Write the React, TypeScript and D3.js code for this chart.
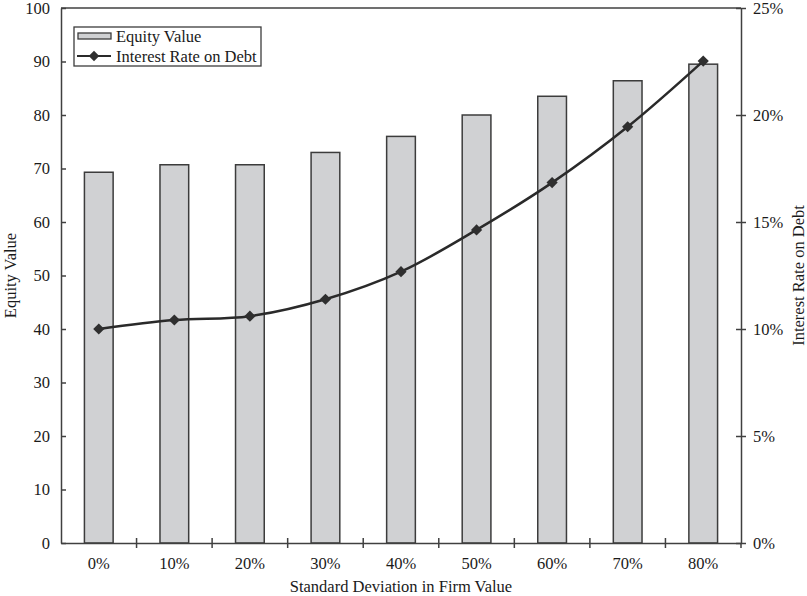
import * as d3 from "d3";
import React from "react";

const categories = ["0%", "10%", "20%", "30%", "40%", "50%", "60%", "70%", "80%"];
const equityValue = [69.3, 70.7, 70.7, 73.0, 76.0, 80.0, 83.5, 86.4, 89.5];
const interestRate = [0.1, 0.1042, 0.106, 0.1139, 0.1268, 0.1463, 0.1684, 0.1945, 0.2252];
const leftTicks = [0, 10, 20, 30, 40, 50, 60, 70, 80, 90, 100];
const rightTicks = [0, 0.05, 0.1, 0.15, 0.2, 0.25];

function App() {
  const svgRef = React.useRef<SVGSVGElement>(null);

  React.useEffect(() => {
    const width = 807;
    const height = 596;
    const marginTop = 8;
    const marginLeft = 61;
    const marginRight = 66;
    const marginBottom = 53;
    const font = "'Liberation Serif', 'Times New Roman', serif";
    const fontSize = 16.5;
    const axisColor = "#404040";
    const textColor = "#1a1a1a";

    const svg = d3.select(svgRef.current);
    svg.selectAll("*").remove();
    svg.attr("width", width).attr("height", height).attr("viewBox", [0, 0, width, height]);

    const x = d3
      .scaleBand()
      .domain(categories)
      .range([marginLeft, width - marginRight])
      .paddingInner(0.62)
      .paddingOuter(0.31);
    const xOuter = d3.scaleBand().domain(categories).range([marginLeft, width - marginRight]);
    const y = d3.scaleLinear().domain([0, 100]).range([height - marginBottom, marginTop]);
    const y2 = d3.scaleLinear().domain([0, 0.25]).range([height - marginBottom, marginTop]);

    // bars
    svg
      .append("g")
      .selectAll("rect")
      .data(equityValue)
      .join("rect")
      .attr("x", (_, i) => x(categories[i]) as number)
      .attr("y", (d) => y(d))
      .attr("width", x.bandwidth())
      .attr("height", (d) => y(0) - y(d))
      .attr("fill", "#d0d1d3")
      .attr("stroke", "#3c3c3c")
      .attr("stroke-width", 1.5);

    // frame top line
    svg
      .append("line")
      .attr("x1", marginLeft)
      .attr("x2", width - marginRight)
      .attr("y1", marginTop)
      .attr("y2", marginTop)
      .attr("stroke", axisColor)
      .attr("stroke-width", 1.5);

    const styleAxis = (g: any) => {
      g.select(".domain").attr("stroke", axisColor).attr("stroke-width", 1.5);
      g.selectAll(".tick line").attr("stroke", axisColor).attr("stroke-width", 1.5);
      g.selectAll(".tick text")
        .attr("font-family", font)
        .attr("font-size", fontSize)
        .attr("fill", textColor);
    };

    // left axis
    svg
      .append("g")
      .attr("transform", `translate(${marginLeft},0)`)
      .call(d3.axisLeft(y).tickValues(leftTicks).tickSize(4).tickSizeOuter(0).tickPadding(7))
      .call(styleAxis)
      .call((g: any) => g.selectAll(".tick line").attr("x2", 5));

    // right axis
    svg
      .append("g")
      .attr("transform", `translate(${width - marginRight},0)`)
      .call(
        d3
          .axisRight(y2)
          .tickValues(rightTicks)
          .tickFormat(d3.format(".0%"))
          .tickSize(4)
          .tickSizeOuter(0)
          .tickPadding(8),
      )
      .call(styleAxis)
      .call((g: any) => g.selectAll(".tick line").attr("x2", -5).attr("x1", 5));

    // bottom axis (ticks at category boundaries)
    const bottom = svg
      .append("g")
      .attr("transform", `translate(0,${height - marginBottom})`)
      .call(d3.axisBottom(x).tickSize(0).tickSizeOuter(0).tickPadding(14))
      .call(styleAxis);
    bottom
      .selectAll(".boundary")
      .data(categories.slice(1))
      .join("line")
      .attr("class", "boundary")
      .attr("x1", (d) => xOuter(d) as number)
      .attr("x2", (d) => xOuter(d) as number)
      .attr("y1", -5)
      .attr("y2", 5)
      .attr("stroke", axisColor)
      .attr("stroke-width", 1.5);
    bottom
      .append("line")
      .attr("x1", width - marginRight)
      .attr("x2", width - marginRight)
      .attr("y1", 0)
      .attr("y2", 5)
      .attr("stroke", axisColor)
      .attr("stroke-width", 1.5);

    // line series
    const cx = (i: number) => (x(categories[i]) as number) + x.bandwidth() / 2;
    const line = d3
      .line<number>()
      .curve(d3.curveCatmullRom.alpha(0.5))
      .x((_, i) => cx(i))
      .y((d) => y2(d));
    svg
      .append("path")
      .attr("d", line(interestRate))
      .attr("fill", "none")
      .attr("stroke", "#2a2a2a")
      .attr("stroke-width", 2.5);

    const diamond = d3.symbol(d3.symbolDiamond2, 80);
    svg
      .append("g")
      .selectAll("path")
      .data(interestRate)
      .join("path")
      .attr("d", diamond)
      .attr("transform", (d, i) => `translate(${cx(i)},${y2(d)})`)
      .attr("fill", "#2f2f2f");

    // axis titles
    const midY = (marginTop + height - marginBottom) / 2;
    svg
      .append("text")
      .attr("transform", `translate(16,${midY}) rotate(-90)`)
      .attr("text-anchor", "middle")
      .attr("font-family", font)
      .attr("font-size", fontSize)
      .attr("fill", textColor)
      .text("Equity Value");
    svg
      .append("text")
      .attr("transform", `translate(804,${midY}) rotate(-90)`)
      .attr("text-anchor", "middle")
      .attr("font-family", font)
      .attr("font-size", fontSize)
      .attr("fill", textColor)
      .text("Interest Rate on Debt");
    svg
      .append("text")
      .attr("x", (marginLeft + width - marginRight) / 2)
      .attr("y", 592)
      .attr("text-anchor", "middle")
      .attr("font-family", font)
      .attr("font-size", fontSize)
      .attr("fill", textColor)
      .text("Standard Deviation in Firm Value");

    // legend
    const legend = svg.append("g").attr("transform", "translate(74,27)");
    legend
      .append("rect")
      .attr("width", 187)
      .attr("height", 39)
      .attr("fill", "#fff")
      .attr("stroke", "#3c3c3c")
      .attr("stroke-width", 1.3);
    legend
      .append("rect")
      .attr("x", 4)
      .attr("y", 6)
      .attr("width", 33)
      .attr("height", 6)
      .attr("fill", "#d0d1d3")
      .attr("stroke", "#3c3c3c")
      .attr("stroke-width", 1.3);
    legend
      .append("line")
      .attr("x1", 3)
      .attr("x2", 37)
      .attr("y1", 29)
      .attr("y2", 29)
      .attr("stroke", "#2a2a2a")
      .attr("stroke-width", 2);
    legend
      .append("path")
      .attr("d", d3.symbol(d3.symbolDiamond2, 70))
      .attr("transform", "translate(20,29)")
      .attr("fill", "#2f2f2f");
    legend
      .selectAll("text")
      .data(["Equity Value", "Interest Rate on Debt"])
      .join("text")
      .attr("x", 42)
      .attr("y", (_, i) => 9 + i * 20)
      .attr("dy", "0.35em")
      .attr("font-family", font)
      .attr("font-size", fontSize)
      .attr("fill", textColor)
      .text((d) => d);
  }, []);

  return (
    <svg
      ref={svgRef}
      style={{ position: "absolute", left: 0, top: 0, display: "block", background: "#fff" }}
    />
  );
}

export default App;
